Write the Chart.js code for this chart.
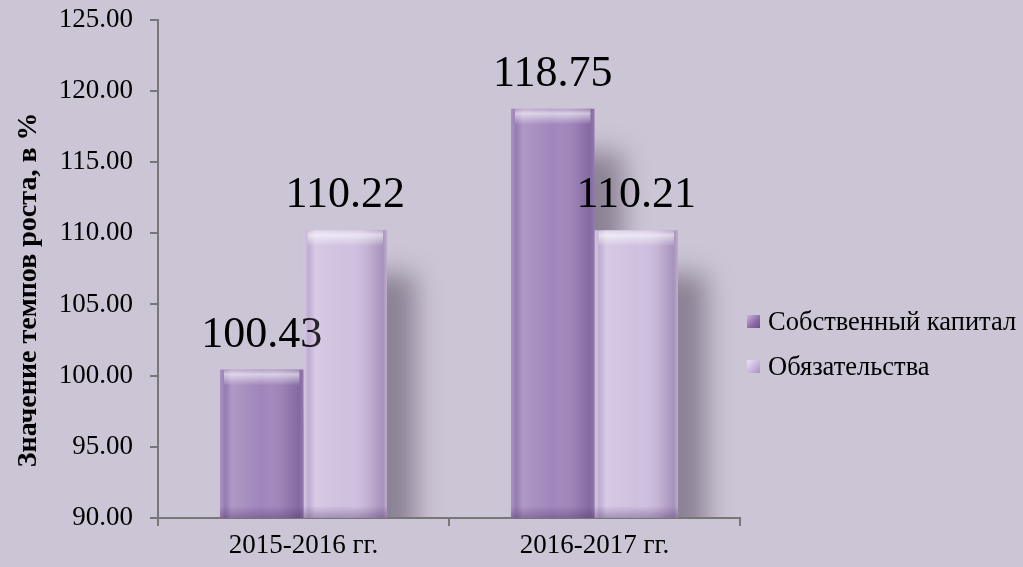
<!DOCTYPE html>
<html>
<head>
<meta charset="utf-8">
<script src="https://cdn.jsdelivr.net/npm/chart.js@4.4.1/dist/chart.umd.min.js"></script>
<style>
  html, body { margin: 0; padding: 0; background: #ccc5d5; }
  #wrap { position: relative; width: 1023px; height: 567px; background: #ccc5d5; }
  #legend { position: absolute; left: 747px; top: 306px; font-family: 'Liberation Serif', serif; font-size: 26.5px; color: #000; }
  .item { display: flex; align-items: center; height: 30px; margin-bottom: 15px; white-space: nowrap; }
  .box { width: 13px; height: 13px; margin-right: 8px; box-sizing: border-box; }
</style>
</head>
<body>
<div id="wrap">
  <canvas id="myChart" width="1023" height="567"></canvas>
  <div id="legend"></div>
</div>
<script>
const categories = ['2015-2016 гг.', '2016-2017 гг.'];
const seriesNames = ['Собственный капитал', 'Обязательства'];
const equity = [100.43, 118.75];
const liabilities = [110.22, 110.21];
const yTicks = [90, 95, 100, 105, 110, 115, 120, 125];

const barColors = ['#a085bb', '#d0c0e0'];
const boxColors = [
  'linear-gradient(135deg, #c9b6dc, #8a6aa6 60%, #6e5088)',
  'linear-gradient(135deg, #ece2f5, #c6b2da 60%, #a78fc0)'
];

// soft drop shadow behind every bar, drawn before the bars
const shadowPlugin = {
  id: 'barShadow',
  beforeDatasetsDraw(chart) {
    const ctx = chart.ctx;
    const area = chart.chartArea;
    ctx.save();
    ctx.beginPath();
    ctx.rect(area.left, area.top, area.right - area.left, area.bottom - area.top - 1);
    ctx.clip();
    ctx.filter = 'blur(13px)';
    ctx.fillStyle = 'rgba(85, 75, 95, 0.55)';
    chart.data.datasets.forEach((ds, i) => {
      chart.getDatasetMeta(i).data.forEach(bar => {
        const w = bar.width;
        ctx.fillRect(bar.x - w / 2 + 28, bar.y + 44, w, area.bottom - bar.y);
      });
    });
    ctx.restore();
  }
};

// bevel shading on top of each bar plus the value labels
const bevelPlugin = {
  id: 'bevel',
  afterDatasetsDraw(chart) {
    const ctx = chart.ctx;
    const bottom = chart.chartArea.bottom;
    ctx.save();
    chart.data.datasets.forEach((ds, i) => {
      chart.getDatasetMeta(i).data.forEach((bar, j) => {
        const w = bar.width;
        const l = bar.x - w / 2;
        const t = bar.y;
        const h = Math.min(bar.base, bottom) - t;

        let g = ctx.createLinearGradient(l, 0, l + w, 0);
        g.addColorStop(0, 'rgba(255,255,255,0.10)');
        g.addColorStop(0.06, 'rgba(90,60,120,0.14)');
        g.addColorStop(0.14, 'rgba(255,255,255,0.16)');
        g.addColorStop(0.5, 'rgba(255,255,255,0.0)');
        g.addColorStop(0.86, 'rgba(70,40,100,0.20)');
        g.addColorStop(0.95, 'rgba(60,30,90,0.28)');
        g.addColorStop(1, 'rgba(60,30,90,0.12)');
        ctx.fillStyle = g;
        ctx.fillRect(l, t, w, h);

        // top bevel
        g = ctx.createLinearGradient(0, t, 0, t + 16);
        g.addColorStop(0, 'rgba(255,255,255,0.20)');
        g.addColorStop(0.3, 'rgba(255,255,255,0.60)');
        g.addColorStop(1, 'rgba(255,255,255,0)');
        ctx.fillStyle = g;
        ctx.fillRect(l + 4, t, w - 8, 16);

        // bottom edge
        g = ctx.createLinearGradient(0, t + h - 12, 0, t + h);
        g.addColorStop(0, 'rgba(60,30,90,0)');
        g.addColorStop(1, 'rgba(60,30,90,0.32)');
        ctx.fillStyle = g;
        ctx.fillRect(l, t + h - 12, w, 12);

        // value label
        ctx.fillStyle = '#000';
        ctx.font = '44px "Liberation Serif", serif';
        ctx.textAlign = 'center';
        ctx.textBaseline = 'alphabetic';
        ctx.fillText(ds.data[j].toFixed(2), bar.x, t - 23);
      });
    });
    ctx.restore();
  }
};

function render() {
  var ctx = document.getElementById('myChart').getContext('2d');

  /*global Chart*/
  var chart = new Chart(ctx, {
    type: 'bar',
    data: {
      labels: categories,
      datasets: [{
        label: seriesNames[0],
        data: equity,
        backgroundColor: barColors[0],
        borderWidth: 0
      }, {
        label: seriesNames[1],
        data: liabilities,
        backgroundColor: barColors[1],
        borderWidth: 0
      }]
    },
    options: {
      responsive: false,
      animation: false,
      events: [],
      layout: { padding: { left: 4, top: 0, right: 283, bottom: 0 } },
      datasets: {
        bar: { categoryPercentage: 0.574, barPercentage: 1.0 }
      },
      plugins: {
        legend: { display: false },
        tooltip: { enabled: false }
      },
      scales: {
        x: {
          afterFit: (scale) => { scale.height = 49; },
          grid: { drawOnChartArea: false, color: '#777', tickLength: 8, lineWidth: 2 },
          border: { color: '#777', width: 2 },
          ticks: { color: '#000', padding: 4, font: { family: 'Liberation Serif', size: 27 } }
        },
        y: {
          min: yTicks[0],
          max: yTicks[yTicks.length - 1],
          afterBuildTicks: (scale) => { scale.ticks = yTicks.map(v => ({ value: v })); },
          afterFit: (scale) => { scale.width = 154; },
          grid: { drawOnChartArea: false, color: '#777', tickLength: 8, lineWidth: 2 },
          border: { color: '#777', width: 2 },
          ticks: {
            color: '#000',
            padding: 17,
            font: { family: 'Liberation Serif', size: 27, lineHeight: 0.2 },
            callback: (v) => Number(v).toFixed(2)
          },
          title: {
            display: true,
            text: 'Значение темпов роста, в %\u00A0\u00A0\u00A0\u00A0\u00A0\u00A0',
            color: '#000',
            padding: { top: 8, bottom: 14 },
            font: { family: 'Liberation Serif', size: 28, weight: 'bold' }
          }
        }
      }
    },
    plugins: [shadowPlugin, bevelPlugin]
  });

  let legend = document.getElementById('legend');
  seriesNames.forEach((name, i) => {
    let row = document.createElement('div');
    row.className = 'item';
    let box = document.createElement('span');
    box.className = 'box';
    box.style.background = boxColors[i];
    row.appendChild(box);
    row.appendChild(document.createTextNode(name));
    legend.appendChild(row);
  });
  return chart;
}

render();
</script>
</body>
</html>
